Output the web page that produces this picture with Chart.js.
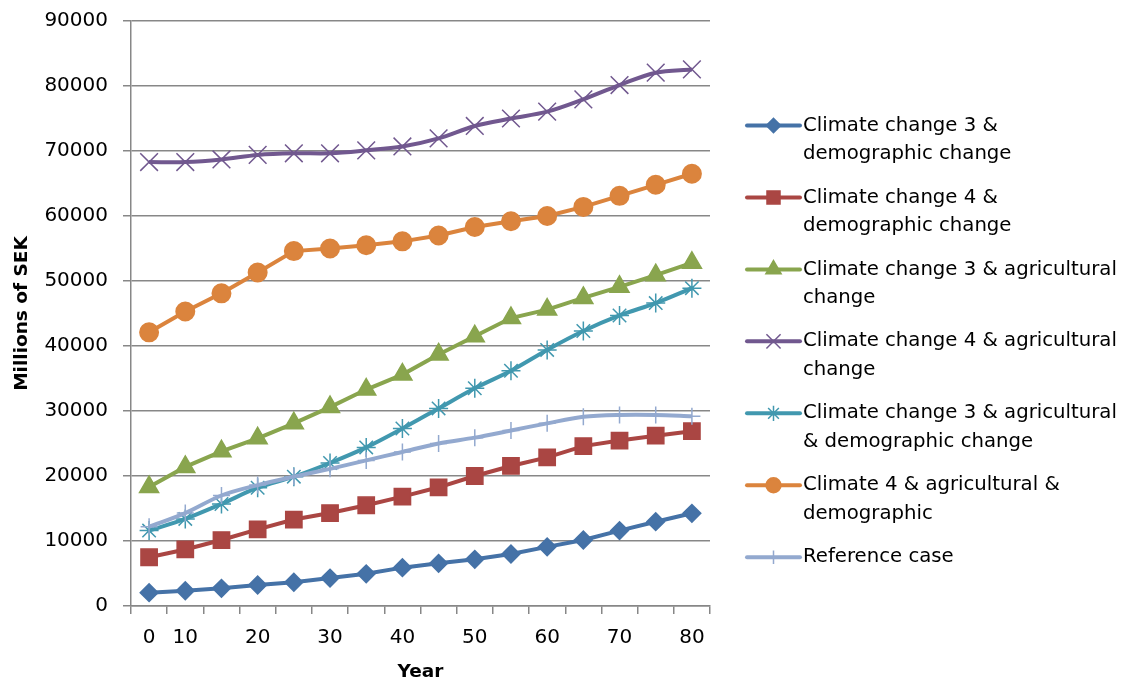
<!DOCTYPE html>
<html>
<head>
<meta charset="utf-8">
<script src="https://cdn.jsdelivr.net/npm/chart.js@4.4.1/dist/chart.umd.min.js"></script>
<style>
  html, body { margin: 0; padding: 0; background: #ffffff; }
  #wrap { width: 1128px; height: 683px; position: relative; }
  canvas { display: block; }
</style>
</head>
<body>
<div id="wrap"><canvas id="c" width="1128" height="683"></canvas></div>
<script>
// ---- data ----
const years = [0, 10, 15, 20, 25, 30, 35, 40, 45, 50, 55, 60, 65, 70, 75, 80];
const yearTickLabels = ["0", "10", "", "20", "", "30", "", "40", "", "50", "", "60", "", "70", "", "80"];
const yTicks = [0, 10000, 20000, 30000, 40000, 50000, 60000, 70000, 80000, 90000];

const cc3Demo     = [2050, 2350, 2720, 3230, 3650, 4300, 4950, 5900, 6560, 7180, 8000, 9100, 10150, 11600, 12970, 14260];
const cc4Demo     = [7500, 8700, 10150, 11800, 13300, 14300, 15500, 16820, 18260, 20000, 21540, 22870, 24600, 25450, 26200, 26900];
const cc3Agri     = [18300, 21400, 23800, 25800, 28100, 30600, 33300, 35600, 38700, 41500, 44300, 45600, 47400, 49100, 50900, 52800];
const cc4Agri     = [68300, 68300, 68700, 69400, 69650, 69650, 70100, 70700, 71950, 73850, 75000, 76050, 77950, 80150, 82050, 82550];
const cc3AgriDemo = [11600, 13400, 15700, 18200, 19900, 22000, 24400, 27300, 30400, 33500, 36200, 39400, 42300, 44700, 46600, 48900];
const cc4AgriDemo = [42100, 45300, 48100, 51300, 54600, 55000, 55500, 56100, 57000, 58300, 59200, 60000, 61400, 63100, 64800, 66500];
const referenceCase = [12200, 14300, 17000, 18600, 19900, 21100, 22400, 23700, 25000, 25900, 27000, 28100, 29100, 29400, 29400, 29200];

const seriesNames = [
  ["Climate change 3 &", "demographic change"],
  ["Climate change 4 &", "demographic change"],
  ["Climate change 3 & agricultural", "change"],
  ["Climate change 4 & agricultural", "change"],
  ["Climate change 3 & agricultural", "& demographic change"],
  ["Climate 4 & agricultural &", "demographic"],
  ["Reference case"]
];
const seriesValues = [cc3Demo, cc4Demo, cc3Agri, cc4Agri, cc3AgriDemo, cc4AgriDemo, referenceCase];

// ---- styles ----
const colors = ["#4572A7", "#AA4643", "#89A54E", "#71588F", "#4198AF", "#DB843D", "#93A9CF"];
const styles = [
  { pointStyle: "rectRot",  radius: 8.5,  border: 2,   tension: 0 },
  { pointStyle: "rect",     radius: 11.5, border: 1.5, tension: 0 },
  { pointStyle: "triangle", radius: 11,   border: 1.5, tension: 0 },
  { pointStyle: "crossRot", radius: 12.5, border: 1.5, tension: 0.33 },
  { pointStyle: "star",     radius: 9.5,  border: 1.5, tension: 0.33 },
  { pointStyle: "circle",   radius: 9,    border: 2,   tension: 0 },
  { pointStyle: "cross",    radius: 8.5,  border: 1.5, tension: 0.33 }
];

const FONT = "'DejaVu Sans', sans-serif";
const GRID = "#878787";

const datasets = seriesValues.map((vals, i) => ({
  label: seriesNames[i].join(" "),
  data: vals,
  borderColor: colors[i],
  backgroundColor: colors[i],
  pointBackgroundColor: colors[i],
  pointBorderColor: colors[i],
  borderWidth: 4,
  pointStyle: styles[i].pointStyle,
  pointRadius: styles[i].radius,
  pointHoverRadius: styles[i].radius,
  pointBorderWidth: styles[i].border,
  tension: styles[i].tension,
  fill: false,
  order: seriesValues.length - i
}));

// ---- custom legend (line + marker, multi-line text) ----
function drawMarker(ctx, style, x, y, r) {
  const S = Math.SQRT1_2;
  ctx.beginPath();
  let fill = true;
  switch (style) {
    case "rectRot":
      ctx.moveTo(x, y - r); ctx.lineTo(x + r, y); ctx.lineTo(x, y + r); ctx.lineTo(x - r, y); ctx.closePath();
      break;
    case "rect": {
      const s = r * S; ctx.rect(x - s, y - s, 2 * s, 2 * s); break;
    }
    case "triangle":
      ctx.moveTo(x, y - r);
      ctx.lineTo(x + r * Math.sin(2 * Math.PI / 3), y - r * Math.cos(2 * Math.PI / 3));
      ctx.lineTo(x + r * Math.sin(4 * Math.PI / 3), y - r * Math.cos(4 * Math.PI / 3));
      ctx.closePath();
      break;
    case "circle":
      ctx.arc(x, y, r, 0, Math.PI * 2); break;
    case "crossRot": {
      const d = r * S; fill = false;
      ctx.moveTo(x - d, y - d); ctx.lineTo(x + d, y + d);
      ctx.moveTo(x + d, y - d); ctx.lineTo(x - d, y + d);
      break;
    }
    case "cross":
      fill = false;
      ctx.moveTo(x - r, y); ctx.lineTo(x + r, y);
      ctx.moveTo(x, y - r); ctx.lineTo(x, y + r);
      break;
    case "star": {
      const d = r * S; fill = false;
      ctx.moveTo(x - r, y); ctx.lineTo(x + r, y);
      ctx.moveTo(x, y - r); ctx.lineTo(x, y + r);
      ctx.moveTo(x - d, y - d); ctx.lineTo(x + d, y + d);
      ctx.moveTo(x + d, y - d); ctx.lineTo(x - d, y + d);
      break;
    }
  }
  if (fill) ctx.fill();
  ctx.stroke();
}

const legendPlugin = {
  id: "sideLegend",
  afterDraw(chart) {
    const ctx = chart.ctx;
    ctx.save();
    const lineX0 = 747, lineX1 = 800, textX = 803;
    const firstY = 125.5, entryGap = 71.95, lineGap = 28.5;
    ctx.font = "19.7px " + FONT;
    ctx.textBaseline = "middle";
    ctx.textAlign = "left";
    chart.data.datasets.forEach((ds, i) => {
      const y = firstY + i * entryGap;
      ctx.strokeStyle = colors[i];
      ctx.fillStyle = colors[i];
      ctx.lineWidth = 4;
      ctx.lineCap = "round";
      ctx.beginPath(); ctx.moveTo(lineX0, y); ctx.lineTo(lineX1, y); ctx.stroke();
      ctx.lineCap = "butt";
      ctx.lineWidth = styles[i].border;
      drawMarker(ctx, styles[i].pointStyle, (lineX0 + lineX1) / 2, y, styles[i].radius * 0.8);
      ctx.fillStyle = "#000000";
      seriesNames[i].forEach((t, k) => ctx.fillText(t, textX, y + k * lineGap));
    });
    ctx.restore();
  }
};

new Chart(document.getElementById("c"), {
  type: "line",
  data: { labels: years.map(String), datasets },
  plugins: [legendPlugin],
  options: {
    responsive: false,
    animation: false,
    devicePixelRatio: 1,
    layout: { padding: { left: 0, top: 21, right: 418, bottom: 0 } },
    plugins: { legend: { display: false }, tooltip: { enabled: false } },
    scales: {
      x: {
        type: "category",
        offset: true,
        grid: { display: true, drawOnChartArea: false, drawTicks: true, tickLength: 8, color: GRID, lineWidth: 1.5, offset: true },
        border: { display: true, color: GRID, width: 1.5 },
        ticks: {
          autoSkip: false, maxRotation: 0, minRotation: 0, padding: 12,
          color: "#000000", font: { family: FONT, size: 20 },
          callback: (v, idx) => yearTickLabels[idx]
        },
        title: { display: true, text: "Year", color: "#000000", font: { family: FONT, size: 18.5, weight: "bold" }, padding: { top: 0, bottom: 0 } },
        afterFit: (s) => { s.height = 77; s.paddingLeft = 0; s.paddingRight = 0; }
      },
      y: {
        min: 0, max: 90000,
        afterBuildTicks: (s) => { s.ticks = yTicks.map(v => ({ value: v })); },
        grid: { color: GRID, lineWidth: 1.5, tickLength: 8, drawTicks: true },
        border: { display: true, color: GRID, width: 1.5 },
        ticks: { padding: 15, color: "#000000", font: { family: FONT, size: 20 }, callback: (v) => String(v) },
        title: { display: true, text: "Millions of SEK", color: "#000000", font: { family: FONT, size: 18.5, weight: "bold" }, padding: { top: 11, bottom: 0 } },
        afterFit: (s) => { s.width = 131; s.paddingTop = 0; s.paddingBottom = 0; }
      }
    }
  }
});
</script>
</body>
</html>
